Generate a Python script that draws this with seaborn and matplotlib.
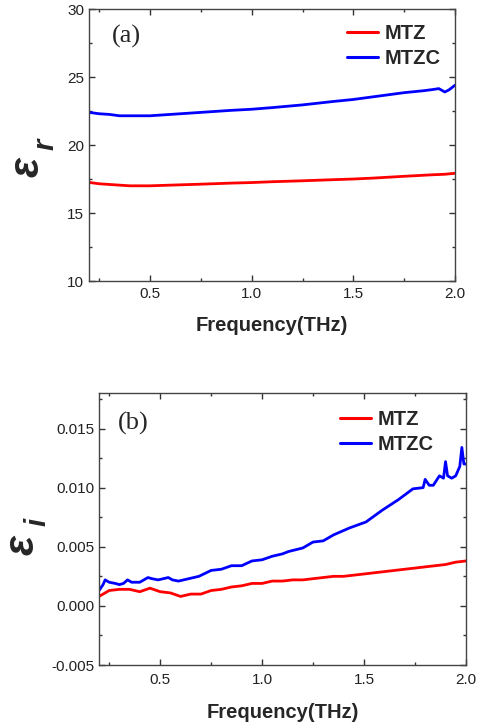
import numpy as np
import pandas as pd
import matplotlib
matplotlib.use("Agg")
import matplotlib.pyplot as plt
import seaborn as sns
from matplotlib.lines import Line2D
from matplotlib.ticker import MultipleLocator

# Panel (a): real part of permittivity
freq_a = [0.2, 0.25, 0.3, 0.35, 0.4, 0.5, 0.6, 0.75, 0.9, 1.0, 1.1, 1.25, 1.4,
          1.5, 1.6, 1.75, 1.85, 1.9, 1.92, 1.95, 1.97, 2.0]
mtzc_a = [22.4, 22.3, 22.25, 22.15, 22.15, 22.15, 22.25, 22.4, 22.55, 22.63, 22.75,
          22.95, 23.2, 23.35, 23.55, 23.85, 24.0, 24.1, 24.15, 23.9, 24.05, 24.4]
mtz_a = [17.25, 17.15, 17.1, 17.05, 17.0, 17.0, 17.05, 17.12, 17.2, 17.24, 17.3,
         17.37, 17.45, 17.5, 17.57, 17.7, 17.78, 17.82, 17.83, 17.85, 17.88, 17.92]

# Panel (b): imaginary part of permittivity
freq_b_mtzc = [0.2, 0.22, 0.23, 0.25, 0.28, 0.3, 0.32, 0.34, 0.36, 0.4, 0.44, 0.46,
               0.49, 0.54, 0.56, 0.59, 0.64, 0.69, 0.75, 0.8, 0.85, 0.9, 0.95, 1.0,
               1.05, 1.1, 1.13, 1.2, 1.25, 1.3, 1.35, 1.43, 1.51, 1.59, 1.67, 1.74,
               1.79, 1.8, 1.82, 1.84, 1.87, 1.89, 1.9, 1.91, 1.93, 1.95, 1.97, 1.98,
               1.99, 2.0]
mtzc_b = [0.0013, 0.0018, 0.0022, 0.0020, 0.0019, 0.0018, 0.0019, 0.0022, 0.0020,
          0.0020, 0.0024, 0.0023, 0.0022, 0.0024, 0.0022, 0.0021, 0.0023, 0.0025,
          0.0030, 0.0031, 0.0034, 0.0034, 0.0038, 0.0039, 0.0042, 0.0044, 0.0046,
          0.0049, 0.0054, 0.0055, 0.0060, 0.0066, 0.0071, 0.0081, 0.0090, 0.0099,
          0.0100, 0.0107, 0.0102, 0.0102, 0.0110, 0.0108, 0.0122, 0.0110, 0.0108,
          0.0110, 0.0118, 0.0134, 0.0120, 0.0120]
freq_b_mtz = [0.2, 0.25, 0.3, 0.35, 0.4, 0.45, 0.5, 0.55, 0.6, 0.65, 0.7, 0.75, 0.8,
              0.85, 0.9, 0.95, 1.0, 1.05, 1.1, 1.15, 1.2, 1.25, 1.3, 1.35, 1.4, 1.45,
              1.5, 1.55, 1.6, 1.65, 1.7, 1.75, 1.8, 1.85, 1.9, 1.95, 2.0]
mtz_b = [0.0008, 0.0013, 0.0014, 0.0014, 0.0012, 0.0015, 0.0012, 0.0011, 0.0008,
         0.0010, 0.0010, 0.0013, 0.0014, 0.0016, 0.0017, 0.0019, 0.0019, 0.0021,
         0.0021, 0.0022, 0.0022, 0.0023, 0.0024, 0.0025, 0.0025, 0.0026, 0.0027,
         0.0028, 0.0029, 0.0030, 0.0031, 0.0032, 0.0033, 0.0034, 0.0035, 0.0037,
         0.0038]

samples = ["MTZ", "MTZC"]
palette = {"MTZ": "#ff0000", "MTZC": "#0000ff"}

sns.set_style("ticks")
plt.rcParams["font.family"] = ["Liberation Sans", "DejaVu Sans"]
plt.rcParams["axes.unicode_minus"] = False

df_a = pd.concat([
    pd.DataFrame({"freq": freq_a, "eps": mtz_a, "sample": "MTZ"}),
    pd.DataFrame({"freq": freq_a, "eps": mtzc_a, "sample": "MTZC"}),
])
df_b = pd.concat([
    pd.DataFrame({"freq": freq_b_mtz, "eps": mtz_b, "sample": "MTZ"}),
    pd.DataFrame({"freq": freq_b_mtzc, "eps": mtzc_b, "sample": "MTZC"}),
])

fig = plt.figure(figsize=(4.79, 7.28), dpi=100)
ax_a = fig.add_axes([0.1858, 0.614, 0.7641, 0.3736])
ax_b = fig.add_axes([0.2067, 0.0865, 0.766, 0.3736])


def style_axes(ax, ylim, ymajor, yminor, fmt, xpad, labelpad):
    ax.set_xlim(0.2, 2.0)
    ax.set_ylim(*ylim)
    ax.xaxis.set_major_locator(MultipleLocator(0.5))
    ax.xaxis.set_minor_locator(MultipleLocator(0.25))
    ax.yaxis.set_major_locator(MultipleLocator(ymajor))
    ax.yaxis.set_minor_locator(MultipleLocator(yminor))
    ax.yaxis.set_major_formatter(fmt)
    ax.xaxis.set_major_formatter("{x:.1f}")
    ax.tick_params(which="both", direction="in", top=True, right=True,
                   color="#333333", width=1)
    ax.tick_params(which="major", length=4, labelsize=11, labelcolor="#222222")
    ax.tick_params(axis="x", which="major", pad=xpad)
    ax.tick_params(which="minor", length=2.5)
    for s in ax.spines.values():
        s.set_color("#444444")
        s.set_linewidth(1.0)
    ax.set_xlabel("Frequency(THz)", fontsize=14.5, fontweight="bold",
                  labelpad=labelpad)
    ax.set_ylabel("")


for ax, df in [(ax_a, df_a), (ax_b, df_b)]:
    sns.lineplot(data=df, x="freq", y="eps", hue="sample", palette=palette,
                 hue_order=samples, linewidth=2, ax=ax, legend=False,
                 estimator=None, sort=False)

style_axes(ax_a, (10, 30), 5, 2.5, "{x:.0f}", 4, 11)
style_axes(ax_b, (-0.005, 0.018), 0.005, 0.0025, "{x:.3f}", 6, 11.5)

handles = [Line2D([0], [0], color=palette[s], lw=2.2) for s in samples]
for ax, loc in [(ax_a, (0.672, 0.991)), (ax_b, (0.624, 0.981))]:
    ax.legend(handles, samples, loc="upper left", bbox_to_anchor=loc, frameon=False,
              prop={"weight": "bold", "size": 14.5}, handlelength=1.55,
              handletextpad=0.3, labelspacing=0.3, borderaxespad=0.2)

ax_a.text(0.063, 0.9, "(a)", transform=ax_a.transAxes, fontsize=19,
          family="Liberation Serif", va="center", ha="left")
ax_b.text(0.052, 0.89, "(b)", transform=ax_b.transAxes, fontsize=19,
          family="Liberation Serif", va="center", ha="left")

# y-axis symbols: epsilon with subscript
eps_kw = dict(rotation=90, ha="center", va="center", fontsize=30,
              fontweight="bold", fontstyle="italic")
sub_kw = dict(rotation=90, ha="center", va="center", fontsize=21,
              fontweight="bold", fontstyle="italic")
fig.text(27 / 479, 1 - 167 / 728, "\u03b5", **eps_kw)
fig.text(46 / 479, 1 - 144 / 728, "r", **sub_kw)
fig.text(22 / 479, 1 - 545 / 728, "\u03b5", **eps_kw)
fig.text(38 / 479, 1 - 522 / 728, "i", **sub_kw)

fig.savefig("out.png", dpi=100)
